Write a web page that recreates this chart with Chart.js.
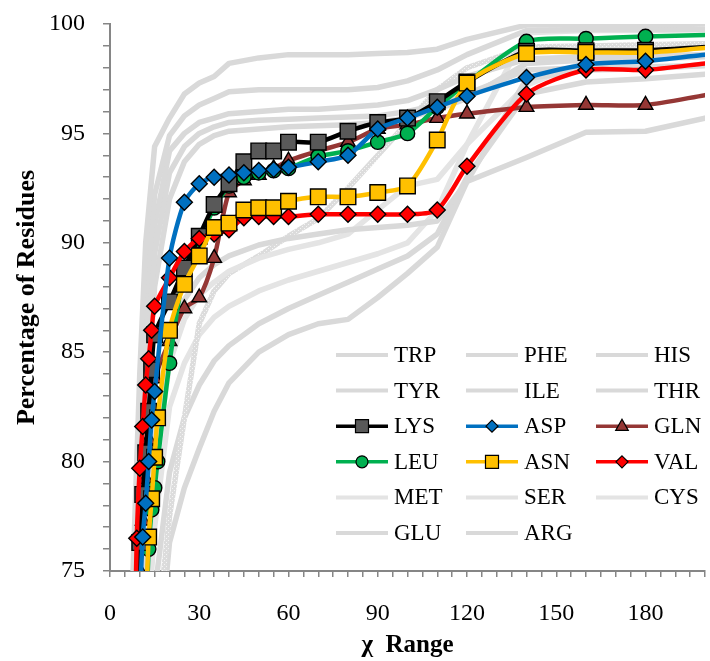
<!DOCTYPE html>
<html>
<head>
<meta charset="utf-8">
<script src="https://cdn.jsdelivr.net/npm/chart.js@4.4.0/dist/chart.umd.min.js"></script>
<style>
  html, body { margin: 0; padding: 0; background: #ffffff; }
  #wrap { width: 710px; height: 661px; }
</style>
</head>
<body>
<div id="wrap"><canvas id="c" width="710" height="661"></canvas></div>
<script>
// χ range values (degrees) for the highlighted residues
const chiColored = [8, 9, 10, 11, 12, 13, 14, 15, 16, 20, 25, 30, 35, 40, 45, 50, 55, 60, 70, 80, 90, 100, 110, 120, 140, 160, 180, 200];
const lysValues = [null, 72.0, 76.3, 78.5, 80.4, 82.3, 84.2, 85.8, null, 87.3, 88.85, 90.3, 91.75, 92.7, 93.7, 94.2, 94.2, 94.6, 94.6, 95.1, 95.5, 95.7, 96.45, 97.35, 98.75, 98.78, 98.8, 98.95];
const aspValues = [null, null, 73.5, 76.55, 78.1, 80.0, 81.9, 83.2, null, 89.3, 91.85, 92.7, 93.0, 93.1, 93.2, 93.3, 93.35, 93.45, 93.7, 94.0, 95.2, 95.7, 96.2, 96.7, 97.55, 98.15, 98.3, 98.6];
const glnValues = [null, null, 75.0, 77.3, 79.2, 81.0, 82.5, 83.8, null, 85.5, 87.0, 87.5, 89.3, 92.3, 92.85, 93.1, 93.4, 93.75, 94.2, 94.6, 95.2, 95.4, 95.7, 95.9, 96.2, 96.3, 96.3, 96.75];
const leuValues = [null, null, null, null, 72.5, 76.0, 77.8, 78.8, 80.0, 84.5, 88.7, 90.1, 91.6, 92.6, 93.0, 93.2, 93.3, 93.4, 93.95, 94.2, 94.6, 95.0, 96.2, 97.3, 99.2, 99.33, 99.43, 99.5];
const asnValues = [null, null, null, null, 73.0, 76.55, 78.3, 80.2, 82.0, 86.0, 88.1, 89.4, 90.7, 90.9, 91.5, 91.6, 91.6, 91.9, 92.1, 92.1, 92.3, 92.6, 94.7, 97.3, 98.65, 98.7, 98.7, 98.9];
const valValues = [70.0, 76.5, 79.7, 81.6, 83.5, 84.7, 86.0, 87.1, null, 88.4, 89.6, 90.2, 90.4, 90.6, 91.15, 91.2, 91.2, 91.2, 91.3, 91.3, 91.3, 91.3, 91.5, 93.5, 96.8, 97.9, 97.9, 98.2];

// χ range values (degrees) for the background residues
const chiGray = [6, 8, 10, 12, 15, 20, 25, 30, 35, 40, 50, 60, 70, 80, 90, 100, 110, 120, 140, 160, 180, 200];
const trpValues = [68, 76, 84, 90, 94.4, 95.7, 96.8, 97.3, 97.6, 98.2, 98.45, 98.6, 98.6, 98.6, 98.65, 98.7, 98.85, 99.3, 99.95, 99.95, 99.95, 100];
const pheValues = [67, 74, 81, 87.5, 92.2, 94.9, 95.8, 96.3, 96.6, 96.9, 97.0, 97.0, 97.0, 97.0, 97.1, 97.4, 97.9, 98.6, 99.7, 99.75, 99.75, 99.75];
const hisValues = [66, 73, 79.5, 85.5, 90.8, 94.2, 95.0, 95.5, 95.7, 95.9, 96.0, 96.1, 96.1, 96.2, 96.3, 96.5, 97.0, 97.6, 98.4, 98.5, 98.55, 98.6];
const tyrValues = [65, 72, 78, 84, 89.5, 93.2, 94.4, 95.0, 95.3, 95.5, 95.6, 95.65, 95.7, 95.75, 95.8, 96.0, 96.3, 96.8, 97.9, 98.0, 98.05, 98.1];
const ileValues = [63, 70, 76, 82, 88, 92.0, 93.7, 94.5, 94.9, 95.1, 95.2, 95.3, 95.35, 95.4, 95.5, 95.7, 96.1, 96.6, 98.2, 98.35, 98.4, 98.5];
const thrValues = [60, 65, 71, 76, 81, 85.5, 87.4, 88.4, 89.0, 89.4, 89.9, 90.2, 90.4, 90.6, 90.7, 90.8, 91.0, 92.8, 97.5, 97.9, 97.95, 98.1];
const metValues = [58, 63, 69, 74, 79.5, 84.5, 86.5, 87.6, 88.2, 88.7, 89.3, 89.7, 90.0, 90.4, 91.5, 92.6, 92.9, 94.5, 97.2, 98.3, 98.5, 98.6];
const serValues = [50, 55, 60, 65, 71, 77.5, 82, 86.3, 87.8, 88.6, 89.4, 90.3, 91.1, 92.5, 94.0, 95.5, 97.0, 98.0, 98.95, 99.0, 99.05, 99.1];
const cysValues = [55, 60, 66, 71, 77, 82.5, 84.5, 85.8, 86.6, 87.1, 87.8, 88.3, 88.7, 89.1, 89.5, 90.0, 91.5, 94.5, 99.6, 99.7, 99.7, 99.75];
const gluValues = [52, 57, 63, 68, 74, 79.5, 82, 83.5, 84.6, 85.3, 86.3, 87.0, 87.6, 88.2, 88.8, 89.4, 90.4, 93.0, 96.8, 97.35, 97.5, 97.7];
const argValues = [40, 45, 52, 60, 69, 76.3, 78.8, 80.6, 82.3, 83.6, 85.0, 85.8, 86.3, 86.5, 87.5, 88.6, 89.8, 92.8, 93.9, 95.05, 95.1, 95.7];

// Axis tick labels
const xTickLabels = [0, 30, 60, 90, 120, 150, 180];
const yTickLabels = [75, 80, 85, 90, 95, 100];

// Legend reading order (three columns, row by row)
const legendOrder = ['TRP', 'PHE', 'HIS', 'TYR', 'ILE', 'THR', 'LYS', 'ASP', 'GLN', 'LEU', 'ASN', 'VAL', 'MET', 'SER', 'CYS', 'GLU', 'ARG'];

const FONT = "'Liberation Serif', 'Times New Roman', serif";
const GRAY = '#d9d9d9';
const LIGHT_GRAY = '#e4e4e4';

function pairs(xs, ys) {
  const out = [];
  xs.forEach((x, i) => { if (ys[i] !== null) out.push({ x: x, y: ys[i] }); });
  return out;
}

// light cross-hatched stroke for one background series
function hatchPattern() {
  const c = document.createElement('canvas');
  c.width = 4; c.height = 4;
  const g = c.getContext('2d');
  g.fillStyle = '#dcdcdc';
  g.fillRect(0, 0, 4, 4);
  g.fillStyle = '#f4f4f4';
  g.fillRect(0, 0, 1, 1);
  g.fillRect(2, 2, 1, 1);
  return g.createPattern(c, 'repeat');
}

function grayLine(label, values, color, order) {
  return {
    label: label,
    data: pairs(chiGray, values),
    borderColor: color,
    backgroundColor: color,
    borderWidth: 5.5,
    pointRadius: 0,
    pointHoverRadius: 0,
    tension: 0,
    order: order,
    legendKind: 'plain'
  };
}

function markerLine(label, values, lineColor, fill, style, radius, legendRadius, order) {
  return {
    label: label,
    data: pairs(chiColored, values),
    borderColor: lineColor,
    backgroundColor: fill,
    borderWidth: 4.5,
    pointStyle: style,
    pointRadius: ctx => (ctx.raw && ctx.raw.x >= 200 ? 0 : radius),
    pointBackgroundColor: fill,
    pointBorderColor: '#000000',
    pointBorderWidth: 1.4,
    spanGaps: true,
    tension: 0.25,
    order: order,
    legendKind: 'marker',
    legendRadius: legendRadius
  };
}

const datasets = [
  grayLine('TRP', trpValues, GRAY, 20),
  grayLine('PHE', pheValues, GRAY, 20),
  grayLine('HIS', hisValues, GRAY, 20),
  grayLine('TYR', tyrValues, GRAY, 20),
  grayLine('ILE', ileValues, GRAY, 20),
  grayLine('THR', thrValues, GRAY, 20),
  markerLine('LYS', lysValues, '#000000', '#595959', 'rect', 11, 6.5, 4),
  markerLine('ASP', aspValues, '#0070c0', '#0070c0', 'rectRot', 8, 6, 1),
  markerLine('GLN', glnValues, '#953735', '#953735', 'triangle', 8.5, 7, 6),
  markerLine('LEU', leuValues, '#00b050', '#00b050', 'circle', 7.2, 6, 5),
  markerLine('ASN', asnValues, '#ffc000', '#ffc000', 'rect', 11, 6.5, 2),
  markerLine('VAL', valValues, '#ff0000', '#ff0000', 'rectRot', 8, 6, 3),
  grayLine('MET', metValues, LIGHT_GRAY, 20),
  grayLine('SER', serValues, hatchPattern(), 20),
  grayLine('CYS', cysValues, LIGHT_GRAY, 20),
  grayLine('GLU', gluValues, GRAY, 20),
  grayLine('ARG', argValues, GRAY, 20)
];
// legend swatch colour for the hatched series
datasets[13].legendColor = '#e2e2e2';

function drawShape(ctx, style, x, y, r) {
  if (style === 'circle') {
    ctx.arc(x, y, r, 0, Math.PI * 2);
  } else if (style === 'rect') {
    ctx.rect(x - r, y - r, 2 * r, 2 * r);
  } else if (style === 'rectRot') {
    ctx.moveTo(x, y - r); ctx.lineTo(x + r, y); ctx.lineTo(x, y + r); ctx.lineTo(x - r, y); ctx.closePath();
  } else if (style === 'triangle') {
    ctx.moveTo(x, y - r); ctx.lineTo(x + r * 0.9, y + r * 0.6); ctx.lineTo(x - r * 0.9, y + r * 0.6); ctx.closePath();
  }
}

// Legend drawn inside the plot, lower right
const insideLegend = {
  id: 'insideLegend',
  afterDatasetsDraw(chart) {
    const ctx = chart.ctx;
    const left = 336, top = 355, colStep = 130, rowStep = 35.6, lineLen = 52;
    ctx.save();
    ctx.font = '23px ' + FONT;
    ctx.textBaseline = 'middle';
    ctx.textAlign = 'left';
    legendOrder.forEach((name, i) => {
      const ds = chart.data.datasets.find(d => d.label === name);
      const col = i % 3, row = Math.floor(i / 3);
      const x = left + col * colStep;
      const y = top + row * rowStep;
      ctx.strokeStyle = ds.legendColor || ds.borderColor;
      ctx.lineWidth = ds.legendKind === 'marker' ? 3.5 : 4;
      ctx.beginPath();
      ctx.moveTo(x, y);
      ctx.lineTo(x + lineLen, y);
      ctx.stroke();
      if (ds.legendKind === 'marker') {
        ctx.fillStyle = ds.pointBackgroundColor;
        ctx.strokeStyle = '#000000';
        ctx.lineWidth = 1.2;
        ctx.beginPath();
        drawShape(ctx, ds.pointStyle, x + lineLen / 2, y, ds.legendRadius);
        ctx.fill();
        ctx.stroke();
      }
      ctx.fillStyle = '#000000';
      ctx.fillText(name, x + lineLen + 6, y + 1);
    });
    ctx.restore();
  }
};

new Chart(document.getElementById('c'), {
  type: 'line',
  data: { datasets: datasets },
  options: {
    responsive: false,
    animation: false,
    devicePixelRatio: 1,
    layout: { autoPadding: false, padding: { top: 24, right: 5, left: 0, bottom: 0 } },
    plugins: { legend: { display: false }, tooltip: { enabled: false } },
    elements: { line: { borderCapStyle: 'round', borderJoinStyle: 'round' } },
    scales: {
      x: {
        type: 'linear',
        min: 0, max: 200,
        afterFit: s => { s.height = 90; s.paddingLeft = 0; s.paddingRight = 0; },
        afterBuildTicks: s => {
          const t = [];
          for (let v = 0; v <= 200; v += 5) t.push({ value: v });
          s.ticks = t;
        },
        ticks: {
          autoSkip: false,
          maxRotation: 0,
          padding: 22,
          color: '#000000',
          font: { family: FONT, size: 24 },
          callback: v => (xTickLabels.includes(v) ? String(v) : '')
        },
        grid: { drawOnChartArea: false, drawTicks: true, tickLength: 6, color: '#868686', lineWidth: 1.5 },
        border: { color: '#868686', width: 2 },
        title: {
          display: true,
          text: 'χ  Range',
          color: '#000000',
          font: { family: FONT, size: 25, weight: 'bold' },
          padding: { top: 0, bottom: 0 }
        }
      },
      y: {
        type: 'linear',
        min: 75, max: 100,
        afterFit: s => { s.width = 110; s.paddingTop = 0; s.paddingBottom = 0; },
        afterBuildTicks: s => {
          const t = [];
          for (let v = 75; v <= 100; v += 1) t.push({ value: v });
          s.ticks = t;
        },
        ticks: {
          autoSkip: false,
          padding: 18,
          color: '#000000',
          font: { family: FONT, size: 24 },
          callback: v => (yTickLabels.includes(v) ? String(v) : '')
        },
        grid: { drawOnChartArea: false, drawTicks: true, tickLength: 7, color: '#868686', lineWidth: 1.5 },
        border: { color: '#868686', width: 2 },
        title: {
          display: true,
          text: 'Percentage of Residues',
          color: '#000000',
          font: { family: FONT, size: 26, weight: 'bold' },
          padding: { top: 12, bottom: 0 }
        }
      }
    }
  },
  plugins: [insideLegend]
});
</script>
</body>
</html>
